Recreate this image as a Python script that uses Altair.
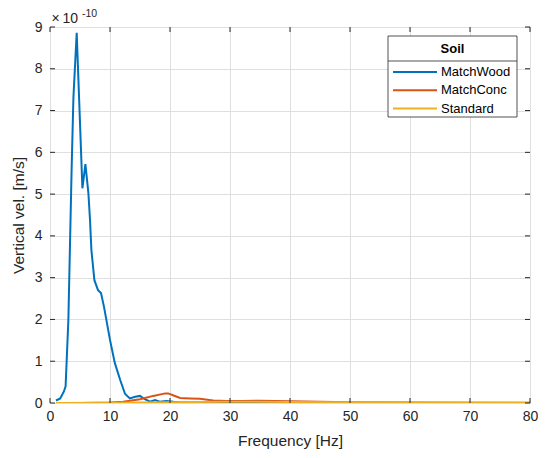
import altair as alt
import pandas as pd

# ---- data (values in units of 1e-10 m/s) ----
freq_wood = [1.0, 1.7, 2.3, 2.6, 3.06, 3.6, 3.9, 4.45, 5.4, 5.9, 6.4, 6.67, 6.9, 7.4, 8.0, 8.5, 9.0,
             10.0, 10.8, 11.7, 12.5, 13.3, 14.2, 15.0, 15.8, 16.7, 17.5, 18.3, 19.4, 20.6, 21.5,
             23.0, 26.0, 30.0, 40.0, 50.0, 60.0, 70.0, 80.0]
vel_wood = [0.06, 0.11, 0.27, 0.40, 1.98, 5.57, 7.30, 8.86, 5.14, 5.72, 5.02, 4.38, 3.66, 2.94, 2.70, 2.63, 2.30,
            1.51, 0.96, 0.55, 0.22, 0.11, 0.15, 0.17, 0.09, 0.03, 0.07, 0.03, 0.05, 0.03, 0.02,
            0.01, 0.005, 0.003, 0.002, 0.001, 0.001, 0.001, 0.001]

freq_conc = [1.0, 5.0, 8.0, 10.0, 12.2, 15.0, 17.2, 19.2, 19.7, 20.6, 21.7, 23.3, 25.0, 27.2, 29.4,
             32.0, 35.0, 40.0, 50.0, 60.0, 70.0, 80.0]
vel_conc = [0.0, 0.002, 0.005, 0.01, 0.03, 0.09, 0.17, 0.23, 0.23, 0.18, 0.12, 0.11, 0.10, 0.06, 0.05,
            0.05, 0.055, 0.04, 0.02, 0.01, 0.008, 0.005]

freq_std = [1.0, 10.0, 20.0, 30.0, 40.0, 50.0, 60.0, 70.0, 80.0]
vel_std = [0.0, 0.005, 0.02, 0.03, 0.025, 0.015, 0.01, 0.01, 0.008]

series_names = ["MatchWood", "MatchConc", "Standard"]
series_colors = ["#0072BD", "#D95319", "#EDB120"]
series_freq = [freq_wood, freq_conc, freq_std]
series_vel = [vel_wood, vel_conc, vel_std]

x_ticks = [0, 10, 20, 30, 40, 50, 60, 70, 80]
y_ticks = [0, 1, 2, 3, 4, 5, 6, 7, 8, 9]

legend_title = "Soil"
x_title = "Frequency [Hz]"
y_title = "Vertical vel. [m/s]"

# ---- layout ----
W, H = 480, 376
FONT = "Liberation Sans"
TXT = "#262626"

xs = alt.Scale(domain=[0, 80], nice=False, zero=False)
ys = alt.Scale(domain=[0, 9], nice=False)

x_axis = alt.Axis(values=x_ticks, title=x_title, grid=True, domain=False, ticks=False, tickSize=0,
                  labelPadding=6, titlePadding=10, labelFontSize=14, titleFontSize=15.5,
                  labelColor=TXT, titleColor=TXT, titleFontWeight="normal", labelFont=FONT,
                  titleFont=FONT, gridColor="#dfdfdf", format="d", labelFlush=False)
y_axis = alt.Axis(values=y_ticks, title=y_title, grid=True, domain=False, ticks=False, tickSize=0,
                  labelPadding=8, titlePadding=8, labelFontSize=14, titleFontSize=15.5,
                  labelColor=TXT, titleColor=TXT, titleFontWeight="normal", labelFont=FONT,
                  titleFont=FONT, gridColor="#dfdfdf", format="d", labelFlush=False)

color_scale = alt.Scale(domain=series_names, range=series_colors)

layers = []
for i, (name, fr, vel) in enumerate(zip(series_names, series_freq, series_vel)):
    df = pd.DataFrame({"freq": fr, "vel": vel, "series": name})
    layers.append(
        alt.Chart(df).mark_line(strokeWidth=2, clip=True).encode(
            x=alt.X("freq:Q", scale=xs, axis=x_axis),
            y=alt.Y("vel:Q", scale=ys, axis=y_axis),
            color=alt.Color("series:N", scale=color_scale, legend=None),
        )
    )

# inward ticks on all four sides
xt = pd.DataFrame({"freq": x_ticks})
yt = pd.DataFrame({"vel": y_ticks})
TL = 5
tick_layers = [
    alt.Chart(xt).mark_rule(color=TXT, strokeWidth=1).encode(
        x=alt.X("freq:Q", scale=xs, axis=x_axis), y=alt.value(H), y2=alt.value(H - TL)),
    alt.Chart(xt).mark_rule(color=TXT, strokeWidth=1).encode(
        x=alt.X("freq:Q", scale=xs, axis=x_axis), y=alt.value(0), y2=alt.value(TL)),
    alt.Chart(yt).mark_rule(color=TXT, strokeWidth=1).encode(
        y=alt.Y("vel:Q", scale=ys, axis=y_axis), x=alt.value(0), x2=alt.value(TL)),
    alt.Chart(yt).mark_rule(color=TXT, strokeWidth=1).encode(
        y=alt.Y("vel:Q", scale=ys, axis=y_axis), x=alt.value(W), x2=alt.value(W - TL)),
]

one = pd.DataFrame({"a": [0]})

# exponent label
exp_layers = [
    alt.Chart(one).mark_text(align="left", baseline="alphabetic", fontSize=14, font=FONT, color=TXT).encode(
        x=alt.value(1.5), y=alt.value(-4), text=alt.value("\u00d7")),
    alt.Chart(one).mark_text(align="left", baseline="alphabetic", fontSize=14, font=FONT, color=TXT).encode(
        x=alt.value(12.5), y=alt.value(-4), text=alt.value("10")),
    alt.Chart(one).mark_text(align="left", baseline="alphabetic", fontSize=10.5, font=FONT, color=TXT).encode(
        x=alt.value(32), y=alt.value(-10.5), text=alt.value("-10")),
]

# legend (manual, MATLAB style)
LX0, LX1, LY0, LY1 = 338, 467, 9, 90
leg_layers = [
    alt.Chart(one).mark_rect(fill="white", stroke=TXT, strokeWidth=0.8).encode(
        x=alt.value(LX0), x2=alt.value(LX1), y=alt.value(LY0), y2=alt.value(LY1)),
    alt.Chart(one).mark_rule(color=TXT, strokeWidth=0.8).encode(
        x=alt.value(LX0), x2=alt.value(LX1), y=alt.value(34)),
    alt.Chart(one).mark_text(align="center", baseline="middle", fontSize=13, fontWeight="bold",
                             font=FONT, color="black").encode(
        x=alt.value((LX0 + LX1) / 2), y=alt.value(22), text=alt.value(legend_title)),
]
for i, name in enumerate(series_names):
    yy = 45 + 18.3 * i
    sdf = pd.DataFrame({"series": [name]})
    leg_layers.append(
        alt.Chart(sdf).mark_rule(strokeWidth=2).encode(
            x=alt.value(343), x2=alt.value(387), y=alt.value(yy),
            color=alt.Color("series:N", scale=color_scale, legend=None)))
    leg_layers.append(
        alt.Chart(sdf).mark_text(align="left", baseline="middle", fontSize=13, font=FONT, color="black").encode(
            x=alt.value(391), y=alt.value(yy), text="series:N"))

chart = alt.layer(*layers, *tick_layers, *exp_layers, *leg_layers).properties(
    width=W, height=H,
    autosize=alt.AutoSizeParams(type="none"),
    padding={"left": 42, "top": 19, "right": 9, "bottom": 47},
).configure_view(stroke=TXT, strokeWidth=1).configure(background="white")

chart.save("out.html", embed_options={"renderer": "svg", "actions": False})
